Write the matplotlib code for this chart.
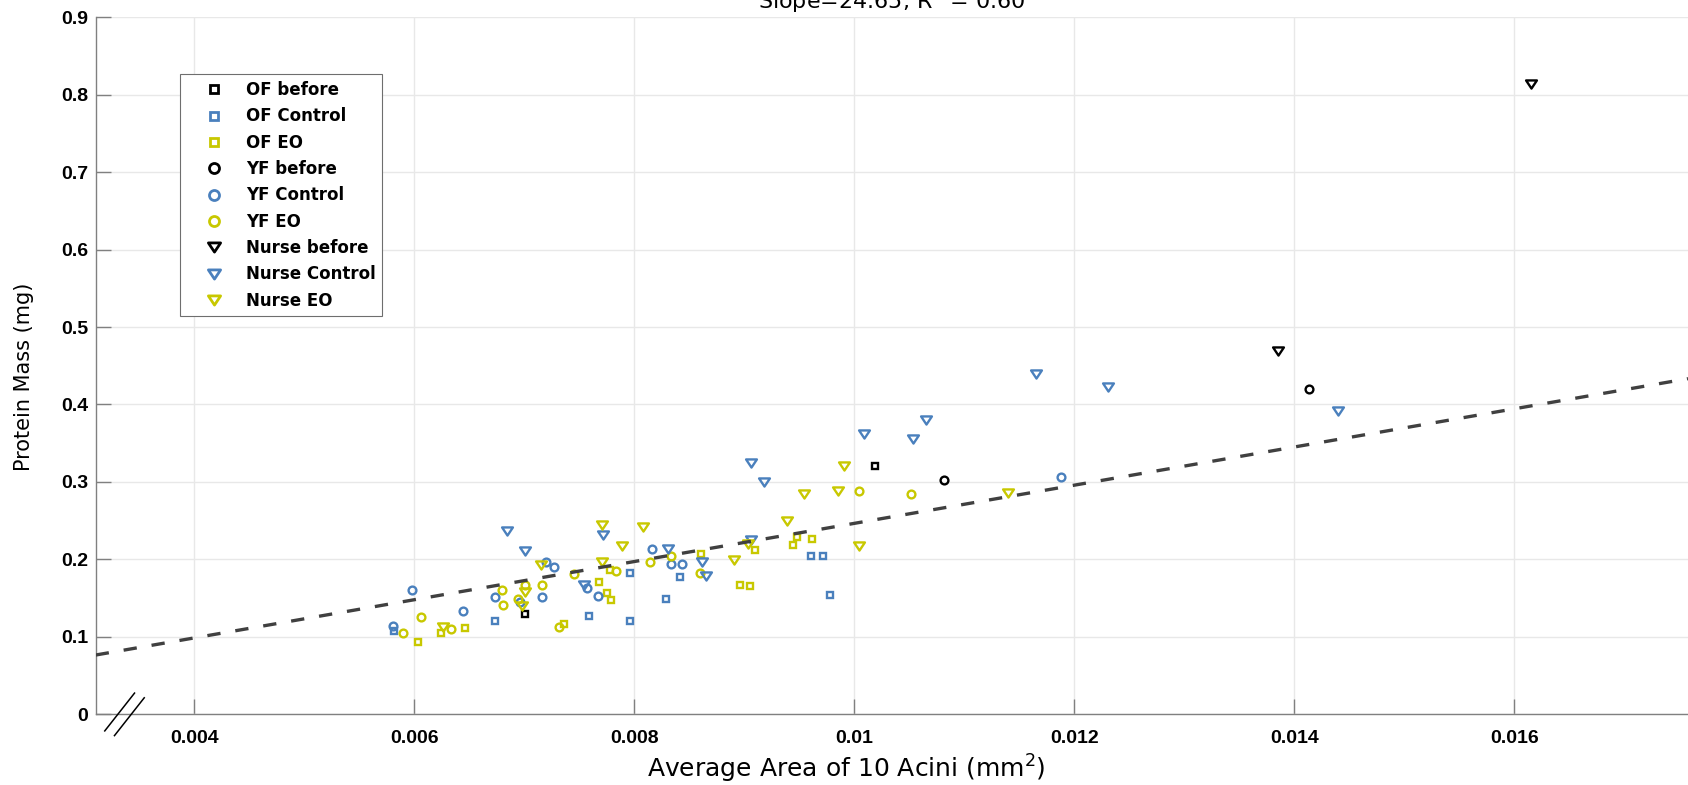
import matplotlib.pyplot as plt
import numpy as np
from matplotlib.lines import Line2D
from matplotlib.path import Path

# values
of_before_x = [0.00701, 0.01019]
of_before_y = [0.129, 0.320]

of_control_x = [0.00582, 0.00673, 0.00759, 0.00796, 0.00796, 0.00829, 0.00842,
                0.00961, 0.00972, 0.00978]
of_control_y = [0.108, 0.120, 0.127, 0.182, 0.120, 0.149, 0.177,
                0.204, 0.204, 0.154]

of_eo_x = [0.00603, 0.00624, 0.00646, 0.00736, 0.00768, 0.00775, 0.00779, 0.00778,
           0.00861, 0.00910, 0.00896, 0.00905, 0.00948, 0.00944, 0.00962]
of_eo_y = [0.093, 0.105, 0.112, 0.117, 0.171, 0.157, 0.148, 0.186,
           0.207, 0.212, 0.167, 0.166, 0.229, 0.218, 0.226]

yf_before_x = [0.01082, 0.01413]
yf_before_y = [0.302, 0.420]

yf_control_x = [0.00581, 0.00598, 0.00644, 0.00673, 0.00696, 0.00716, 0.00720,
                0.00727, 0.00757, 0.00767, 0.00816, 0.00833, 0.00843, 0.01188]
yf_control_y = [0.114, 0.161, 0.133, 0.152, 0.145, 0.151, 0.196,
                0.190, 0.163, 0.153, 0.214, 0.194, 0.194, 0.307]

yf_eo_x = [0.00590, 0.00606, 0.00633, 0.00680, 0.00681, 0.00694, 0.00701, 0.00716,
           0.00732, 0.00745, 0.00783, 0.00814, 0.00833, 0.00860, 0.01004, 0.01052]
yf_eo_y = [0.105, 0.125, 0.110, 0.161, 0.141, 0.149, 0.167, 0.167,
           0.113, 0.181, 0.185, 0.197, 0.204, 0.182, 0.288, 0.285]

nurse_before_x = [0.01385, 0.01615]
nurse_before_y = [0.469, 0.814]

nurse_control_x = [0.00684, 0.00701, 0.00754, 0.00772, 0.00831, 0.00862, 0.00865,
                   0.00906, 0.00918, 0.00906, 0.01009, 0.01053, 0.01065, 0.01165,
                   0.01231, 0.01440]
nurse_control_y = [0.237, 0.211, 0.167, 0.232, 0.213, 0.197, 0.178,
                   0.324, 0.300, 0.225, 0.362, 0.355, 0.380, 0.440,
                   0.423, 0.391]

nurse_eo_x = [0.00626, 0.00698, 0.00701, 0.00715, 0.00771, 0.00771, 0.00789, 0.00808,
              0.00891, 0.00903, 0.00939, 0.00954, 0.00985, 0.00991, 0.01004, 0.01140]
nurse_eo_y = [0.113, 0.140, 0.158, 0.193, 0.245, 0.197, 0.217, 0.242,
              0.199, 0.220, 0.250, 0.284, 0.288, 0.320, 0.217, 0.286]

fit_slope = 24.65
fit_intercept = 0.0
fit_r2 = 0.60

x_ticks = [0.004, 0.006, 0.008, 0.010, 0.012, 0.014, 0.016]
x_tick_labels = ["0.004", "0.006", "0.008", "0.01", "0.012", "0.014", "0.016"]
y_ticks = [0, 0.1, 0.2, 0.3, 0.4, 0.5, 0.6, 0.7, 0.8, 0.9]
y_tick_labels = ["0", "0.1", "0.2", "0.3", "0.4", "0.5", "0.6", "0.7", "0.8", "0.9"]

BLACK = "#000000"
BLUE = "#4a80bd"
YELLOW = "#c8c800"
TICK_FONT = dict(family="Liberation Sans", weight="bold", size=14)

# flattened down-pointing triangle, like the MATLAB 'v' marker
TRIANGLE = Path([(-1, 0.75), (1, 0.75), (0, -0.75), (-1, 0.75)],
                [Path.MOVETO, Path.LINETO, Path.LINETO, Path.CLOSEPOLY])
# "//" axis-break sign
BREAK = Path([(-20.2, -17.0), (10.5, 22.0), (-10.5, -21.7), (20.2, 17.3)],
             [Path.MOVETO, Path.LINETO, Path.MOVETO, Path.LINETO])

groups = [
    ("OF before", of_before_x, of_before_y, "s", BLACK),
    ("OF Control", of_control_x, of_control_y, "s", BLUE),
    ("OF EO", of_eo_x, of_eo_y, "s", YELLOW),
    ("YF before", yf_before_x, yf_before_y, "o", BLACK),
    ("YF Control", yf_control_x, yf_control_y, "o", BLUE),
    ("YF EO", yf_eo_x, yf_eo_y, "o", YELLOW),
    ("Nurse before", nurse_before_x, nurse_before_y, TRIANGLE, BLACK),
    ("Nurse Control", nurse_control_x, nurse_control_y, TRIANGLE, BLUE),
    ("Nurse EO", nurse_eo_x, nurse_eo_y, TRIANGLE, YELLOW),
]
plot_size = {"s": 4.6, "o": 5.6, "v": 7.8}
legend_size = {"s": 6.4, "o": 7.2, "v": 8.8}


def marker_key(marker):
    return marker if isinstance(marker, str) else "v"


plt.rcParams["font.family"] = "DejaVu Sans"

fig = plt.figure(figsize=(16.88, 7.85), dpi=100)
ax = fig.add_axes([0.0567, 0.0901, 0.9433, 0.8879])

handles = []
for label, xs, ys, marker, color in groups:
    key = marker_key(marker)
    ax.plot(xs, ys, linestyle="none", marker=marker, markersize=plot_size[key],
            markerfacecolor="none", markeredgecolor=color, markeredgewidth=1.7, zorder=3)
    handles.append(Line2D([], [], linestyle="none", marker=marker,
                          markersize=legend_size[key], markerfacecolor="none",
                          markeredgecolor=color, markeredgewidth=2.0, label=label))

ax.set_xlim(0.003104, 0.01758)
ax.set_ylim(0, 0.9)

fit_x = np.array(ax.get_xlim())
ax.plot(fit_x, fit_slope * fit_x + fit_intercept, color="#404040", linewidth=2.4,
        dashes=(4, 4.5), zorder=4)

# axis break sign on the x axis, just right of the origin
ax.plot([0.018], [0], transform=ax.transAxes, marker=BREAK, markersize=31.7,
        markerfacecolor="none", markeredgecolor="black", markeredgewidth=1.1,
        linestyle="none", clip_on=False, zorder=5)

ax.set_xticks(x_ticks)
ax.set_xticklabels(x_tick_labels, fontdict=TICK_FONT)
ax.set_yticks(y_ticks)
ax.set_yticklabels(y_tick_labels, fontdict=TICK_FONT)
ax.tick_params(axis="both", direction="in", length=11, width=1, color="#808080")
ax.tick_params(axis="x", pad=11)
ax.tick_params(axis="y", pad=5.5)

for side in ("top", "right"):
    ax.spines[side].set_visible(False)
for side in ("left", "bottom"):
    ax.spines[side].set_color("#808080")
    ax.spines[side].set_linewidth(1.0)

ax.grid(True, color="#e8e8e8", linewidth=1.0)
ax.set_axisbelow(True)

ax.set_title(f"Slope={fit_slope:.2f}, R$^2$ = {fit_r2:.2f}", fontsize=16, pad=6)
ax.set_xlabel("Average Area of 10 Acini (mm$^2$)", fontsize=18, va="baseline")
ax.xaxis.set_label_coords(0.4712, -0.0914)
ax.set_ylabel("Protein Mass (mg)", fontsize=15, va="center")
ax.yaxis.set_label_coords(-0.045, 0.484)

leg = ax.legend(handles=handles, loc="upper left", bbox_to_anchor=(0.0531, 0.918),
                borderaxespad=0, prop=dict(family="DejaVu Sans", weight="bold", size=12),
                fancybox=False, framealpha=1, edgecolor="#6e6e6e", borderpad=0.4,
                handlelength=3.25, handletextpad=0.28, labelspacing=0.5, numpoints=1)
leg.get_frame().set_linewidth(0.8)

fig.savefig("out.png", dpi=100)
